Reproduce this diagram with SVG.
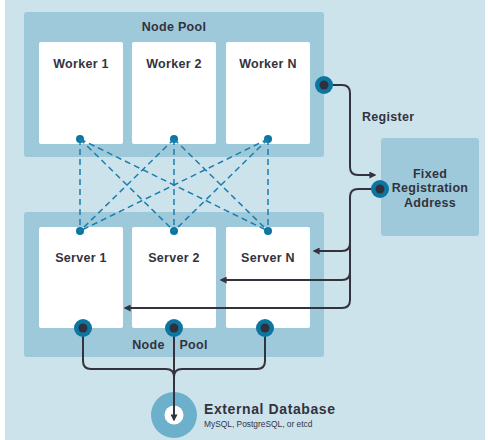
<svg xmlns="http://www.w3.org/2000/svg" width="488" height="440" viewBox="0 0 488 440">
<defs>
<style>
.bg{fill:#cde3ec}
.pool{fill:#9dc9db}
.box{fill:#ffffff}
.t{font-family:"Liberation Sans",Arial,sans-serif;font-weight:bold;fill:#33333e;font-size:12.5px;letter-spacing:0.3px}
.c{text-anchor:middle}
.dash{stroke:#1a7ead;stroke-width:1.5;stroke-dasharray:6 4;fill:none}
.dot{fill:#0c76a1}
.ring{fill:#0c76a1}
.core{fill:#2f303b}
.wire{stroke:#33333e;stroke-width:2;fill:none;stroke-linejoin:round}
</style>
<marker id="arrS" viewBox="0 0 10 10" refX="8" refY="5" markerWidth="7" markerHeight="7" orient="auto" markerUnits="userSpaceOnUse">
<path d="M0,0 L10,5 L0,10 Z" fill="#33333e"/>
</marker>
</defs>
<rect x="0" y="0" width="488" height="440" fill="#ffffff"/>
<rect class="bg" x="5" y="0" width="480" height="440"/>

<g id="top-pool">
<rect class="pool" x="24" y="12" width="300" height="145" rx="3"/>
<text class="t c" x="174" y="31">Node Pool</text>
</g>
<g id="worker-1">
<rect class="box" x="39" y="42" width="84" height="102" rx="2"/>
<text class="t c" x="81" y="68">Worker 1</text>
<circle class="dot" cx="80" cy="139" r="4"/>
</g>
<g id="worker-2">
<rect class="box" x="132" y="42" width="84" height="102" rx="2"/>
<text class="t c" x="174" y="68">Worker 2</text>
<circle class="dot" cx="174" cy="139" r="4"/>
</g>
<g id="worker-n">
<rect class="box" x="226" y="42" width="84" height="102" rx="2"/>
<text class="t c" x="268" y="68">Worker N</text>
<circle class="dot" cx="268" cy="139" r="4"/>
</g>

<g id="bottom-pool">
<rect class="pool" x="24" y="212" width="300" height="145" rx="3"/>
<text class="t c" x="170" y="349" word-spacing="11">Node Pool</text>
</g>
<g id="server-1">
<rect class="box" x="39" y="227" width="84" height="101" rx="2"/>
<text class="t c" x="81" y="262">Server 1</text>
<circle class="dot" cx="80" cy="231" r="4"/>
</g>
<g id="server-2">
<rect class="box" x="132" y="227" width="84" height="101" rx="2"/>
<text class="t c" x="174" y="262">Server 2</text>
<circle class="dot" cx="174" cy="231" r="4"/>
</g>
<g id="server-n">
<rect class="box" x="226" y="227" width="84" height="101" rx="2"/>
<text class="t c" x="268" y="262">Server N</text>
<circle class="dot" cx="268" cy="231" r="4"/>
</g>

<g id="registration">
<rect class="pool" x="381" y="138" width="98" height="98" rx="3"/>
<text class="t c" x="430" y="178">Fixed</text>
<text class="t c" x="430" y="192">Registration</text>
<text class="t c" x="430" y="207">Address</text>
</g>

<g id="database">
<circle cx="174" cy="415" r="23" fill="#6cb0cc"/>
<circle cx="174" cy="415" r="9.5" fill="#ffffff"/>
<text class="t" x="204" y="414" style="font-size:14px;letter-spacing:0.6px">External Database</text>
<text x="204" y="427" style="font-family:'Liberation Sans',Arial,sans-serif;font-size:8.4px;fill:#33333e">MySQL, PostgreSQL, or etcd</text>
</g>

<g id="connectors">
<path class="dash" d="M80,139 V231 M174,139 V231 M268,139 V231 M80,139 L174,231 M80,139 L268,231 M174,139 L80,231 M174,139 L268,231 M268,139 L80,231 M268,139 L174,231"/>
<path class="wire" d="M324,85 H342 Q350,85 350,93 V167 Q350,175 358,175 H375" marker-end="url(#arrS)"/>
<text class="t" x="362" y="121">Register</text>
<path class="wire" d="M380,189 H358 Q350,189 350,197 V300 Q350,308 342,308 H125" marker-end="url(#arrS)"/>
<path class="wire" d="M350,243 Q350,251 342,251 H314" marker-end="url(#arrS)"/>
<path class="wire" d="M350,272 Q350,280 342,280 H221" marker-end="url(#arrS)"/>
<path class="wire" d="M83,328 V361 Q83,369 91,369 H166 Q174,369 174,377"/>
<path class="wire" d="M265,328 V361 Q265,369 257,369 H182 Q174,369 174,377"/>
<path class="wire" d="M174,328 V420" marker-end="url(#arrS)"/>
</g>

<g id="ports">
<circle class="ring" cx="324" cy="85" r="9"/><circle class="core" cx="324" cy="85" r="4.5"/>
<circle class="ring" cx="380" cy="189" r="9"/><circle class="core" cx="380" cy="189" r="4.5"/>
<circle class="ring" cx="83" cy="328" r="9"/><circle class="core" cx="83" cy="328" r="4.5"/>
<circle class="ring" cx="174" cy="328" r="9"/><circle class="core" cx="174" cy="328" r="4.5"/>
<circle class="ring" cx="265" cy="328" r="9"/><circle class="core" cx="265" cy="328" r="4.5"/>
</g>
</svg>
